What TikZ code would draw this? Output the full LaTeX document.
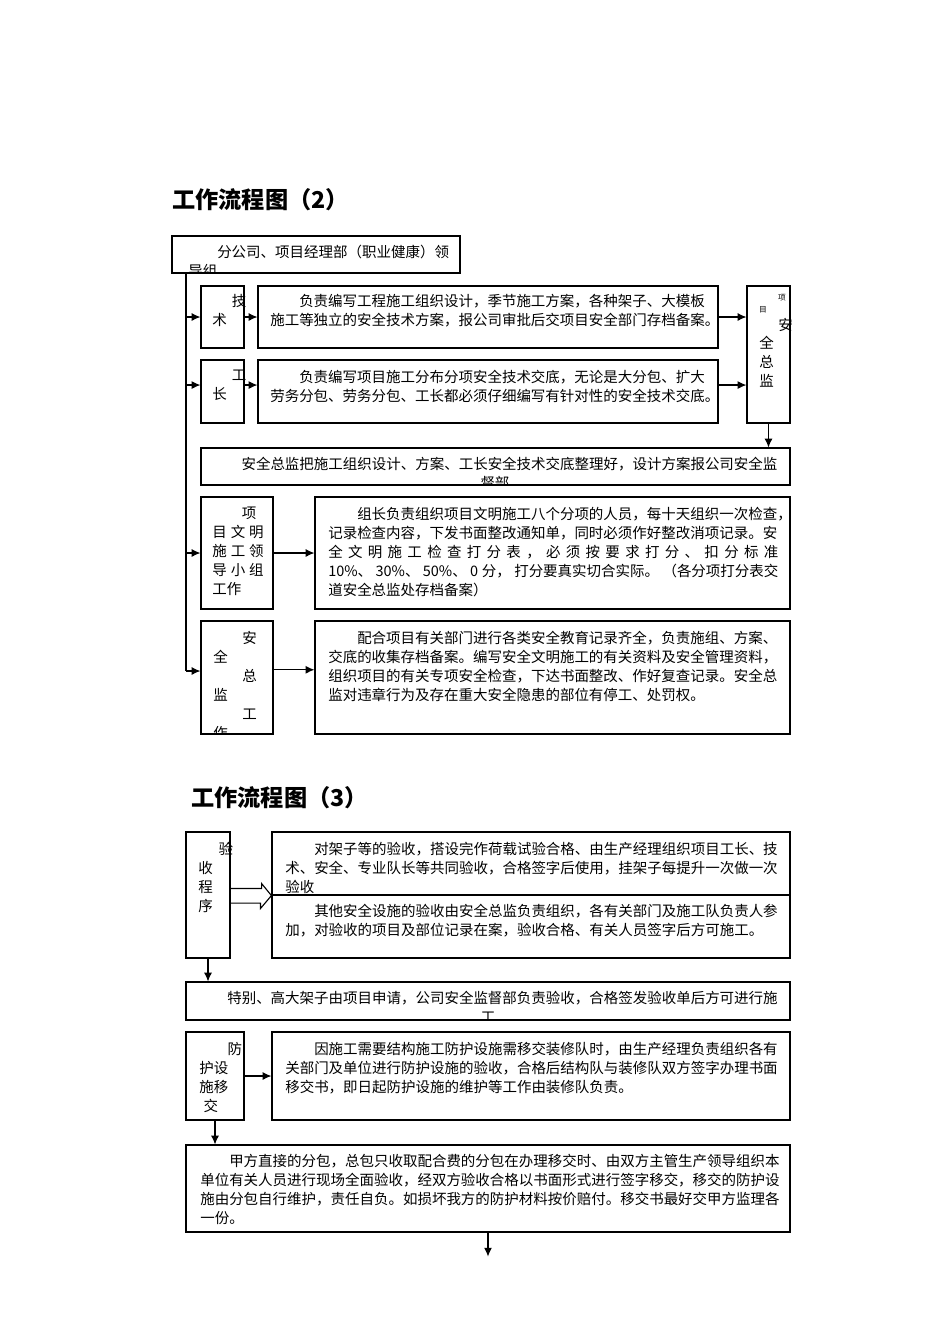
\documentclass[tikz,border=0pt]{standalone}
\usepackage{fontspec}
\setmainfont{Noto Sans CJK SC}
\usetikzlibrary{fit, arrows.meta}
\newcommand\gp{\hspace{0.1cm}}

\begin{document}
\begin{tikzpicture}[x=0.025cm, y=-0.025cm, >={Latex[length=2.2mm,width=2mm]},
  box/.style={draw, line width=0.8pt, inner sep=0pt},
  txt/.style={anchor=north west, inner sep=0pt, align=left, font=\fontsize{10.3}{13.5}\selectfont},
  ctxt/.style={txt, anchor=north, align=center},
  title/.style={anchor=west, inner sep=0pt, font=\fontsize{16.5}{20}\selectfont\bfseries},
  small/.style={inner sep=0pt, font=\fontsize{5.5}{6}\selectfont},
  link/.style={->, line width=0.8pt}]
\useasboundingbox (0,0) rectangle (950,1344);

% Titles
\node[title] (t2) at (172,200) {工作流程图（2）};
\node[title] (t3) at (191,798) {工作流程图（3）};

% All the boxes, by corners
\foreach \n/\a/\b/\c/\d in {
  lead/172/236/460/273, tech/201/286/244/348, techplan/258/286/718/348,
  fore/201/360/244/423, foreplan/258/360/718/423, chief/747/286/790/423,
  file/201/448/790/485, civ/201/497/273/609, civtask/315/497/790/609,
  sup/201/621/273/734, suptask/315/621/790/734,
  acc/186/832/230/958, accA/272/832/790/895, accB/272/895/790/958,
  high/186/982/790/1020, hand/186/1032/244/1120, handtask/272/1032/790/1120,
  sub/186/1145/790/1232} {
  \node[box, fit={(\a,\b) (\c,\d)}] (\n) {};
}

% Texts of flow (2)
\begin{scope}
  \clip (lead.north west) rectangle (lead.south east);
  \node[txt] (leadtx) at (188,245) {\hspace{2em}分公司、项目经理部（职业健康）领\\导组};
\end{scope}
\node[txt] (techtx) at (212,294) {\hspace{1.35em}技\\术};
\node[txt] (techplantx) at (270,294) {\hspace{2em}负责编写工程施工组织设计，季节施工方案，各种架子、大模板\\施工等独立的安全技术方案，报公司审批后交项目安全部门存档备案。};
\node[txt] (foretx) at (212,370) {\hspace{1.35em}工\\长};
\node[txt] (foreplantx) at (270,370) {\hspace{2em}负责编写项目施工分布分项安全技术交底，无论是大分包、扩大\\劳务分包、劳务分包、工长都必须仔细编写有针对性的安全技术交底。};
\node[small] (chieftx1) at (782,298) {项};
\node[small] (chieftx2) at (763,310) {目};
\node[txt] (chieftx3) at (778,318) {安};
\node[txt] (chieftx4) at (759,336) {全\\总\\监};
\begin{scope}
  \clip (file.north west) rectangle (file.south east);
  \node[ctxt] (filetx) at (495,457) {\hspace{2em}安全总监把施工组织设计、方案、工长安全技术交底整理好，设计方案报公司安全监\\督部};
\end{scope}
\node[txt] (civtx) at (212,507) {\hspace{2.05em}项\\目\gp 文\gp 明\\施\gp 工\gp 领\\导\gp 小\gp 组\\工作};
\node[txt] (civtasktx) at (328,507) {\hspace{2em}组长负责组织项目文明施工八个分项的人员，每十天组织一次检查，\\记录检查内容，下发书面整改通知单，同时必须作好整改消项记录。安\\\makebox[11.25cm][s]{全\hfill 文\hfill 明\hfill 施\hfill 工\hfill 检\hfill 查\hfill 打\hfill 分\hfill 表\hfill ，\hfill 必\hfill 须\hfill 按\hfill 要\hfill 求\hfill 打\hfill 分\hfill 、\hfill 扣\hfill 分\hfill 标\hfill 准}\\\makebox[11.25cm][s]{10\%、\hfil 30\%、\hfil 50\%、\hfil 0\hspace{0.25em}分，\hfil 打分要真实切合实际。\hfil（各分项打分表交}\\道安全总监处存档备案）};
\begin{scope}
  \clip (sup.north west) rectangle (sup.south east);
  \node[txt] (suptx) at (213,631) {\hspace{2em}安\\全\\\hspace{2em}总\\监\\\hspace{2em}工\\作};
\end{scope}
\node[txt] (suptasktx) at (328,631) {\hspace{2em}配合项目有关部门进行各类安全教育记录齐全，负责施组、方案、\\交底的收集存档备案。编写安全文明施工的有关资料及安全管理资料，\\组织项目的有关专项安全检查，下达书面整改、作好复查记录。安全总\\监对违章行为及存在重大安全隐患的部位有停工、处罚权。};

% Texts of flow (3)
\node[txt] (acctx) at (198,842) {\hspace{1.4em}验\\收\\程\\序};
\begin{scope}
  \clip (accA.north west) rectangle (accA.south east);
  \node[txt] (accAtx) at (285,842) {\hspace{2em}对架子等的验收，搭设完作荷载试验合格、由生产经理组织项目工长、技\\术、安全、专业队长等共同验收，合格签字后使用，挂架子每提升一次做一次\\验收};
\end{scope}
\node[txt] (accBtx) at (285,904) {\hspace{2em}其他安全设施的验收由安全总监负责组织，各有关部门及施工队负责人参\\加，对验收的项目及部位记录在案，验收合格、有关人员签字后方可施工。};
\begin{scope}
  \clip (high.north west) rectangle (high.south east);
  \node[ctxt] (hightx) at (488,991) {\hspace{2em}特别、高大架子由项目申请，公司安全监督部负责验收，合格签发验收单后方可进行施\\工};
\end{scope}
\node[txt] (handtx) at (199,1042) {\hspace{1.95em}防\\护设\\施移\\\hspace{0.3em}交};
\node[txt] (handtasktx) at (285,1042) {\hspace{2em}因施工需要结构施工防护设施需移交装修队时，由生产经理负责组织各有\\关部门及单位进行防护设施的验收，合格后结构队与装修队双方签字办理书面\\移交书，即日起防护设施的维护等工作由装修队负责。};
\node[txt] (subtx) at (200,1154) {\hspace{2em}甲方直接的分包，总包只收取配合费的分包在办理移交时、由双方主管生产领导组织本\\单位有关人员进行现场全面验收，经双方验收合格以书面形式进行签字移交，移交的防护设\\施由分包自行维护，责任自负。如损坏我方的防护材料按价赔付。移交书最好交甲方监理各\\一份。};

% Connectors of flow (2)
\coordinate (trunk) at (186,273);
\coordinate (trunkend) at (186,671);
\draw[line width=0.8pt] (trunk) -- (trunkend);
\foreach \n in {tech, civ} {
  \draw[link] (trunk |- \n.west) -- (\n.west);
}
\coordinate (row2) at ([yshift=4.6pt]fore.west);
\draw[link] (trunk |- row2) -- (row2);
\draw[link] (trunkend) -- (trunkend -| sup.west);
\draw[link] (tech.east) -- (tech.east -| techplan.west);
\draw[link] (techplan.east) -- (techplan.east -| chief.west);
\coordinate (row2b) at ([yshift=4.6pt]fore.east);
\draw[link] (row2b) -- (row2b -| foreplan.west);
\coordinate (row2c) at ([yshift=4.6pt]foreplan.east);
\draw[link] (row2c) -- (row2c -| chief.west);
\draw[link] (chief.south) -- (chief.south |- file.north);
\draw[link] (civ.east) -- (civ.east -| civtask.west);
\coordinate (row5) at ([yshift=5.5pt]sup.east);
\draw[link] (row5) -- (row5 -| suptask.west);

% Connectors of flow (3)
\draw[line width=0.8pt] (acc.east) ++(0,-6.5) -- ++(31,0) -- ++(0,-5) -- (accA.south west)
  -- ++(-11,13) -- ++(0,-5.5) -- ++(-31,0);
\draw[link] (acc.south) -- (acc.south |- high.north);
\draw[link] (hand.east) -- (hand.east -| handtask.west);
\draw[link] (hand.south) -- (hand.south |- sub.north);
\coordinate (tail) at ([yshift=-0.6cm]sub.south);
\draw[link] (sub.south) -- (tail);
\end{tikzpicture}
\end{document}
